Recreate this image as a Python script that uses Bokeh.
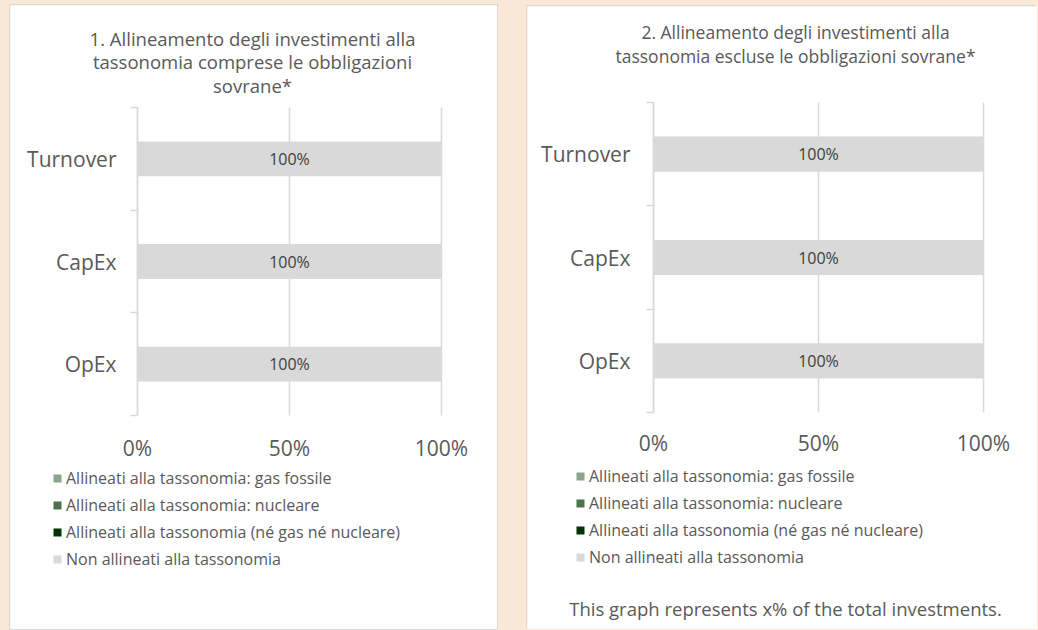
from bokeh.plotting import figure
from bokeh.models import (ColumnDataSource, Range1d, LinearAxis, FixedTicker, Grid, LabelSet, Label,
                          CustomJSTickFormatter, GlobalInlineStyleSheet, Legend, LegendItem)
from bokeh.layouts import row
from bokeh.core.properties import value
from bokeh.embed import file_html
from bokeh.resources import INLINE

# ---------------- data ----------------
categories = ["Turnover", "CapEx", "OpEx"]
series_labels = [
    "Allineati alla tassonomia: gas fossile",
    "Allineati alla tassonomia: nucleare",
    "Allineati alla tassonomia (né gas né nucleare)",
    "Non allineati alla tassonomia",
]
series_colors = ["#8AA58A", "#4B7350", "#003300", "#D9D9D9"]
x_ticks = [0, 50, 100]
x_tick_labels = ["0%", "50%", "100%"]

# chart 1: including sovereign bonds
c1_gas = [0, 0, 0]
c1_nuclear = [0, 0, 0]
c1_aligned_other = [0, 0, 0]
c1_not_aligned = [100, 100, 100]

# chart 2: excluding sovereign bonds
c2_gas = [0, 0, 0]
c2_nuclear = [0, 0, 0]
c2_aligned_other = [0, 0, 0]
c2_not_aligned = [100, 100, 100]

title1_lines = ["1. Allineamento degli investimenti alla",
                "tassonomia comprese le obbligazioni",
                "sovrane*"]
title2_lines = ["2. Allineamento degli investimenti alla",
                "tassonomia escluse le obbligazioni sovrane*"]
footnote2 = "This graph represents x% of the total investments."

# ---------------- styling ----------------
BG = "#FAE9D8"
TXT = "#595959"
LINE = "#D9D9D9"
FONT = "Open Sans"


def make_panel(series_values, title_lines, footnote, W, H, L, R, T, B,
               cat_standoff, x_standoff, title_x, title_ys, title_size,
               legend_loc, foot_pos):
    """W,H: panel size; L,R,T,B: plot-area edges in panel pixels."""
    n = len(categories)
    xmax = 100.0
    ux = (R - L) / xmax            # px per percent
    uy = (B - T) / n               # px per category slot
    x_range = Range1d(-L / ux, xmax + (W - R) / ux)
    y_range = Range1d(-(H - B) / uy, n + T / uy)

    ypos = [n - i - 0.5 for i in range(n)]          # first category at the top
    bottom_up_names = list(reversed(categories))
    p = figure(width=W, height=H, x_range=x_range, y_range=y_range,
               x_axis_location=None, y_axis_location=None,
               output_backend="svg", toolbar_location=None, min_border=0,
               background_fill_color="white", border_fill_color="white",
               outline_line_color=None)
    p.center = [r for r in p.center if not isinstance(r, Grid)]

    # vertical gridlines over the category area
    p.segment(x0=x_ticks, y0=[0] * len(x_ticks), x1=x_ticks, y1=[n] * len(x_ticks),
              line_color=LINE, line_width=1.5)

    keys = [f"s{i}" for i in range(len(series_values))]
    data = {"cat": categories, "y": ypos}
    for k, v in zip(keys, series_values):
        data[k] = v
    src = ColumnDataSource(data)
    bars = p.hbar_stack(keys, y="y", height=0.34, fill_color=series_colors,
                        line_color=None, source=src)

    # segment labels
    lx, ly, lt = [], [], []
    for ci in range(n):
        start = 0
        for vals in series_values:
            v = vals[ci]
            if v > 0:
                lx.append(start + v / 2)
                ly.append(ypos[ci])
                lt.append(f"{v:.0f}%")
            start += v
    p.add_layout(LabelSet(x="x", y="y", text="t",
                          source=ColumnDataSource(dict(x=lx, y=ly, t=lt)),
                          text_align="center", text_baseline="middle",
                          text_font=value(FONT), text_font_size="16px",
                          text_color="#404040"))

    # left axis line with ticks at category boundaries
    p.add_layout(LinearAxis(ticker=FixedTicker(ticks=list(range(n + 1))), fixed_location=0,
                            bounds=(0, n),
                            formatter=CustomJSTickFormatter(code="return ''"),
                            axis_line_color=LINE, axis_line_width=1.5,
                            major_tick_line_color=LINE, major_tick_line_width=1.5,
                            major_tick_out=7, major_tick_in=0,
                            minor_tick_line_color=None, major_label_standoff=0), "left")
    # category names at slot centres
    p.add_layout(LinearAxis(ticker=FixedTicker(ticks=sorted(ypos)), fixed_location=0,
                            bounds=(0, n),
                            formatter=CustomJSTickFormatter(args=dict(names=bottom_up_names),
                                                            code="return names[index]"),
                            axis_line_color=None, major_tick_line_color=None,
                            minor_tick_line_color=None, major_tick_out=0, major_tick_in=0,
                            major_label_standoff=cat_standoff,
                            major_label_text_font=FONT, major_label_text_font_size="21px",
                            major_label_text_color=TXT), "left")

    # x axis (percent)
    p.add_layout(LinearAxis(ticker=FixedTicker(ticks=x_ticks), fixed_location=0,
                            bounds=(0, xmax),
                            major_label_overrides=dict(zip(x_ticks, x_tick_labels)),
                            axis_line_color=None, major_tick_line_color=None,
                            major_tick_out=0, major_tick_in=0, minor_tick_line_color=None,
                            major_label_standoff=x_standoff,
                            major_label_text_font=FONT, major_label_text_font_size="21px",
                            major_label_text_color=TXT), "below")

    # legend below the axis
    leg = Legend(items=[LegendItem(label=lab, renderers=[r]) for lab, r in zip(series_labels, bars)],
                 location=legend_loc, orientation="vertical",
                 padding=0, margin=0, spacing=5, glyph_width=10, glyph_height=10,
                 label_height=20, label_standoff=4, border_line_color=None,
                 background_fill_alpha=0, label_text_font=FONT,
                 label_text_font_size="16px", label_text_color=TXT)
    p.add_layout(leg, "center")

    for line, yy in zip(title_lines, title_ys):
        p.add_layout(Label(x=title_x, y=yy, x_units="screen", y_units="screen",
                           text=line, text_align="center", text_baseline="middle",
                           text_font=FONT, text_font_size=title_size, text_color=TXT))
    if footnote:
        p.add_layout(Label(x=foot_pos[0], y=foot_pos[1], x_units="screen", y_units="screen",
                           text=footnote, text_align="center", text_baseline="middle",
                           text_font=FONT, text_font_size="18.5px", text_color=TXT))
    return p


p1 = make_panel([c1_gas, c1_nuclear, c1_aligned_other, c1_not_aligned], title1_lines, None,
                W=487, H=624, L=127, R=431, T=102, B=410,
                cat_standoff=21, x_standoff=18,
                title_x=242, title_ys=[591, 568, 544], title_size="18.5px",
                legend_loc=(42, 59), foot_pos=None)
p2 = make_panel([c2_gas, c2_nuclear, c2_aligned_other, c2_not_aligned], title2_lines, footnote2,
                W=510, H=623, L=126, R=456, T=96, B=406,
                cat_standoff=23, x_standoff=16,
                title_x=268, title_ys=[598, 574], title_size="17.5px",
                legend_loc=(48, 61), foot_pos=(258, 21))

p1.margin = (5, 0, 0, 10)
p2.margin = (6, 0, 0, 0)
p1.styles = {"box-shadow": f"0 0 0 1px {LINE}"}
p2.styles = {"box-shadow": f"-1px -1px 0 0 {LINE}"}

layout = row(p1, p2, spacing=30, styles={"background-color": BG},
             stylesheets=[GlobalInlineStyleSheet(css=f"html, body {{ background-color: {BG}; }}")])

open("out.html", "w").write(file_html(layout, INLINE))
